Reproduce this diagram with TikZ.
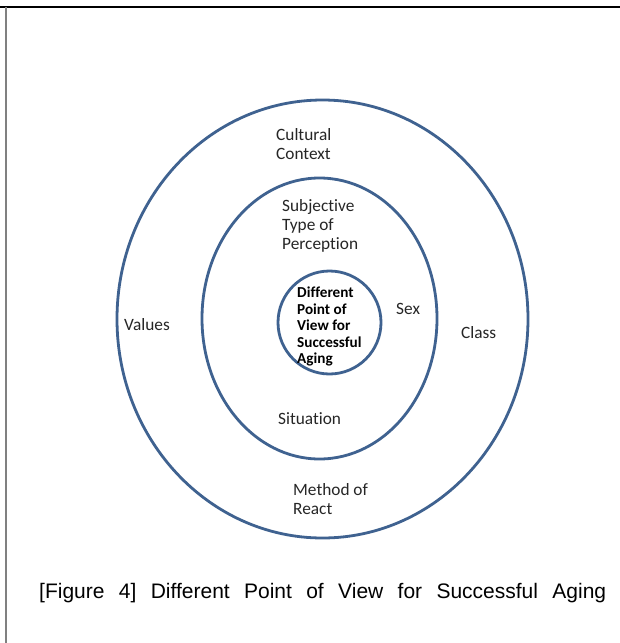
\documentclass[tikz,border=0pt]{standalone}
\usepackage{fontspec}
\usetikzlibrary{shapes.geometric}
\newfontfamily\calfont[Ligatures={NoCommon,NoContextual}]{Carlito}
\newfontfamily\capfont{Liberation Sans}
\definecolor{ringblue}{HTML}{3F6290}
\definecolor{labelgray}{HTML}{262626}
\tikzset{
  ring/.style={ellipse, draw=ringblue, line width=2.8pt, inner sep=0pt},
  lbl/.style={anchor=west, align=left, inner sep=0pt, text=labelgray,
              font=\calfont\fontsize{17.3}{19}\selectfont},
  corelbl/.style={anchor=west, align=left, inner sep=0pt, text=black,
              font=\calfont\bfseries\fontsize{15.2}{16.5}\selectfont},
}
\begin{document}
\begin{tikzpicture}[x=1pt,y=-1pt]
\useasboundingbox (0,0) rectangle (620,643);
\fill[white] (0,0) rectangle (620,643);
% page frame lines
\draw[line width=2pt, black] (0,7) -- (620,7);
\draw[line width=2pt, gray] (5.5,7) -- (5.5,643);
% rings
\node[ring, minimum width=411pt, minimum height=438pt] (outer) at (322.5,319) {};
\node[ring, minimum width=235pt, minimum height=281pt] (middle) at (319.5,318.5) {};
\node[ring, minimum width=103pt, minimum height=103pt] (inner) at (329.5,322.5) {};
% labels
\node[lbl] (cultural) at (276,144.5) {Cultural\\Context};
\node[lbl] (subjective) at (282,225.5) {Subjective\\Type of\\Perception};
\node[lbl] (values) at (124,325) {Values};
\node[lbl] (sex) at (396,309) {Sex};
\node[lbl] (class) at (461,333) {Class};
\node[lbl] (situation) at (278,419) {Situation};
\node[lbl] (method) at (293,499.5) {Method of\\React};
\node[corelbl] (core) at (297,326.5) {Different\\Point of\\View for\\Successful\\Aging};
% caption
\node[anchor=west, inner sep=0pt, font=\capfont\fontsize{21}{24}\selectfont] (caption) at (39,593)
  {\makebox[567pt][s]{[Figure 4] Different Point of View for Successful Aging}};
\end{tikzpicture}
\end{document}
